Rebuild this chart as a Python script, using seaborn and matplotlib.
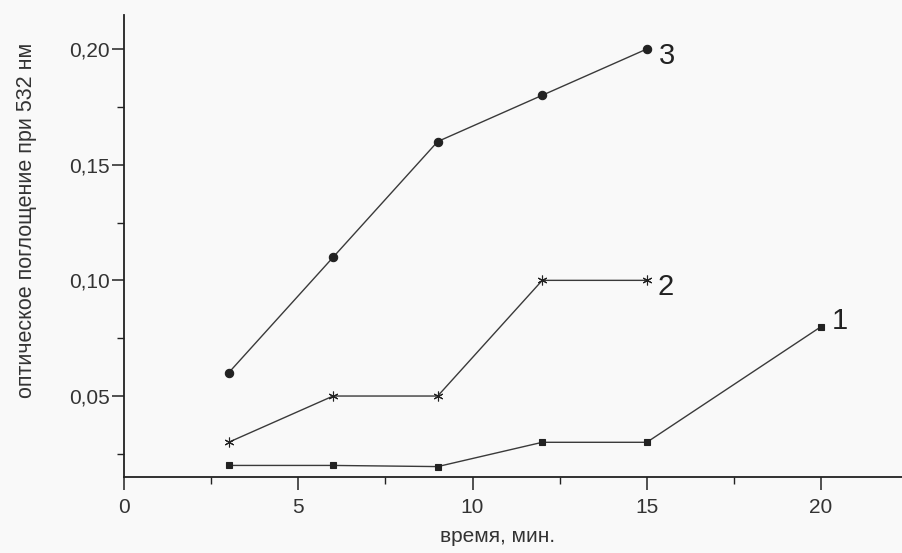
import matplotlib
matplotlib.use("Agg")
import matplotlib.pyplot as plt
import seaborn as sns
import pandas as pd
from matplotlib.ticker import MultipleLocator, FuncFormatter

# время, мин.
time_1 = [3, 6, 9, 12, 15, 20]
time_2 = [3, 6, 9, 12, 15]
time_3 = [3, 6, 9, 12, 15]

# оптическое поглощение при 532 нм
absorb_1 = [0.020, 0.020, 0.0195, 0.030, 0.030, 0.080]
absorb_2 = [0.030, 0.050, 0.050, 0.100, 0.100]
absorb_3 = [0.060, 0.110, 0.160, 0.180, 0.200]

curve_labels = ["1", "2", "3"]

sns.set_style("ticks")
plt.rcParams['font.family'] = ['Liberation Sans', 'DejaVu Sans']

fig = plt.figure(figsize=(9.03, 5.53), dpi=100)
ax = fig.add_axes([124 / 903, 1 - 477 / 553, 1 - 124 / 903, (477 - 15) / 553])
fig.patch.set_facecolor("#f9f9f9")
ax.set_facecolor("#f9f9f9")

line_color = "#3a3a3a"
series = [
    (time_1, absorb_1, "s", 5),
    (time_2, absorb_2, (6, 2, 0), 7),
    (time_3, absorb_3, "o", 6),
]
for xs, ys, mk, ms in series:
    df = pd.DataFrame({"t": xs, "a": ys})
    sns.lineplot(data=df, x="t", y="a", ax=ax, color=line_color, linewidth=1.0,
                 marker=mk, markersize=ms, markeredgewidth=0.8,
                 markerfacecolor="#222222", markeredgecolor="#222222")

# curve numbers next to last points
offsets = [(8, 4), (8, -5), (9, -5)]
for xs, ys, lab, off in zip([time_1, time_2, time_3], [absorb_1, absorb_2, absorb_3],
                            curve_labels, offsets):
    ax.annotate(lab, (xs[-1], ys[-1]), xytext=off, textcoords="offset points",
                fontsize=21, color="#222222", ha="left", va="center")

ax.set_xlim(0, 22.35)
ax.set_ylim(0.015, 0.2147)
ax.xaxis.set_major_locator(MultipleLocator(5))
ax.xaxis.set_minor_locator(MultipleLocator(2.5))
ax.yaxis.set_minor_locator(MultipleLocator(0.025))
ax.set_yticks([0.05, 0.10, 0.15, 0.20])
ax.yaxis.set_major_formatter(FuncFormatter(lambda v, p: f"{v:.2f}".replace(".", ",")))
ax.xaxis.set_major_formatter(FuncFormatter(lambda v, p: f"{v:g}"))

ax.tick_params(axis="both", which="major", length=9, width=1.1, labelsize=15,
               color="#222222", labelcolor="#333333")
ax.tick_params(axis="x", which="major", pad=6)
ax.tick_params(axis="y", which="major", pad=1)
ax.tick_params(axis="both", which="minor", length=5, width=1.0, color="#222222")

for side in ["top", "right"]:
    ax.spines[side].set_visible(False)
for side in ["left", "bottom"]:
    ax.spines[side].set_linewidth(1.3)
    ax.spines[side].set_color("#222222")

ax.set_xlabel("время, мин.", fontsize=15, color="#333333")
ax.xaxis.set_label_coords(0.48, -0.108)
ax.set_ylabel("оптическое поглощение при 532 нм", fontsize=15.5, color="#333333")
ax.yaxis.set_label_coords(-0.112, 0.556)

fig.savefig("out.png", dpi=100, facecolor=fig.get_facecolor())
